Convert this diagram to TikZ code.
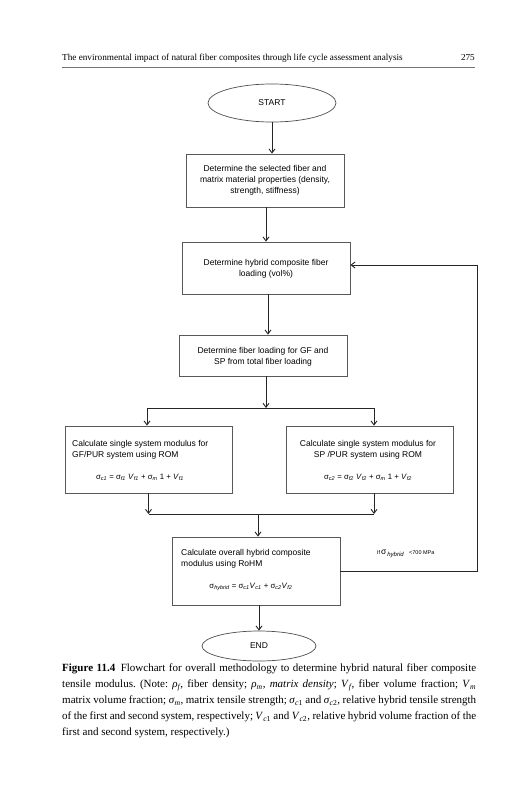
\documentclass[tikz,border=0pt]{standalone}
\usepackage{fontspec}
\setmainfont{Liberation Serif}
\newfontfamily\arialf{Liberation Sans}
\usetikzlibrary{arrows.meta,shapes.geometric}
\newcommand\sbs[1]{\textsubscript{\itshape #1}}
\newcommand\capsub[1]{\textsubscript{\itshape #1}}
\newcommand\capline[1]{\hbox to 414pt{#1}}
\frenchspacing
\begin{document}
\begin{tikzpicture}[x=1pt,y=-1pt,
  box/.style={draw=black!65, line width=0.7pt, inner sep=0pt},
  term/.style={ellipse, draw=black!70, line width=0.7pt, inner sep=0pt, font=\arialf\fontsize{8.5}{10}\selectfont},
  btext/.style={inner sep=0pt, font=\arialf\fontsize{8.5}{10.7}\selectfont},
  ftext/.style={inner sep=0pt, font=\arialf\fontsize{7.8}{9}\selectfont},
  flow/.style={draw=black!85, line width=0.9pt, -{Straight Barb[length=4pt,width=6pt]}},
  link/.style={draw=black!85, line width=0.9pt},
]
\useasboundingbox (0,0) rectangle (531,800);
% header
\node[anchor=base west, inner sep=0pt, font=\fontsize{9.2}{11}\selectfont] (head) at (62,60) {The environmental impact of natural fiber composites through life cycle assessment analysis};
\node[anchor=base east, inner sep=0pt, font=\fontsize{9.2}{11}\selectfont] (pnum) at (475,60) {275};
\draw[line width=0.9pt, black!55] (62,67) -- (475,67);

% terminals
\node[term, minimum width=128pt, minimum height=38pt] (start) at (272,103) {START};
\node[term, minimum width=114pt, minimum height=30pt] (end) at (259,646) {END};

% boxes
\node[box, minimum width=158pt, minimum height=53pt] (b1) at (265,180.5) {};
\node[btext, align=center] (t1) at (265,180.5) {Determine the selected fiber and\\matrix material properties (density,\\strength, stiffness)};

\node[box, minimum width=168pt, minimum height=52pt] (b2) at (266,268) {};
\node[btext, align=center] (t2) at (266,268.5) {Determine hybrid composite fiber\\loading (vol\%)};

\node[box, minimum width=168pt, minimum height=41pt] (b3) at (263,355.5) {};
\node[btext, align=center] (t3) at (263,357) {Determine fiber loading for GF and\\SP from total fiber loading};

\node[box, minimum width=167pt, minimum height=67pt] (bl) at (148.5,459.5) {};
\node[btext, align=left, anchor=west] (tl) at (72,449.5) {Calculate single system modulus for\\GF/PUR system using ROM};
\node[ftext] (fl) at (140,477) {σ\sbs{c1} = σ\sbs{f1} \textit{V}\sbs{f1} + σ\sbs{m} 1 + \textit{V}\sbs{f1}};

\node[box, minimum width=167pt, minimum height=67pt] (br) at (369.5,459.5) {};
\node[btext, align=center] (tr) at (368,449.5) {Calculate single system modulus for\\SP /PUR system using ROM};
\node[ftext] (fr) at (368,477) {σ\sbs{c2} = σ\sbs{f2} \textit{V}\sbs{f2} + σ\sbs{m} 1 + \textit{V}\sbs{f2}};

\node[box, minimum width=168pt, minimum height=68pt] (b4) at (256,571) {};
\node[btext, align=left, anchor=west] (t4) at (181,558.5) {Calculate overall hybrid composite\\modulus using RoHM};
\node[ftext] (f4) at (251,587) {σ\sbs{hybrid} = σ\sbs{c1}\textit{V}\sbs{c1} + σ\sbs{c2}\textit{V}\sbs{f2}};

\node[anchor=west, inner sep=0pt, font=\arialf\fontsize{5.5}{6}\selectfont] (cond) at (377,554) {If\,{\fontsize{8.5}{9}\selectfont σ}\,{\fontsize{6}{6}\selectfont\raisebox{-2pt}{\itshape hybrid}}\quad<700 MPa};

% connectors
\coordinate (s1) at (266,408);
\coordinate (m1) at (258,514);
\coordinate (fb) at (477,400);
\coordinate (b2in) at ([yshift=3pt]b2.east);
\draw[flow] (start.south) -- (start.south |- b1.north);
\draw[flow] ([xshift=1pt]b1.south) -- ([xshift=1pt]b1.south |- b2.north);
\draw[flow] ([xshift=2pt]b2.south) -- ([xshift=2pt]b2.south |- b3.north);
\draw[flow] (s1 |- b3.south) -- (s1);
\draw[link] ([xshift=-1.5pt]bl.north |- s1) -- ([xshift=4.5pt]br.north |- s1);
\draw[flow] ([xshift=-1.5pt]bl.north |- s1) -- ([xshift=-1.5pt]bl.north);
\draw[flow] ([xshift=4.5pt]br.north |- s1) -- ([xshift=4.5pt]br.north);
\draw[flow] (bl.south) -- (bl.south |- m1);
\draw[flow] ([xshift=4.5pt]br.south) -- ([xshift=4.5pt]br.south |- m1);
\draw[link] (bl.south |- m1) -- ([xshift=4.5pt]br.south |- m1);
\draw[flow] (m1) -- (m1 |- b4.north);
\draw[flow] (b4.east) -- (b4.east -| fb) -- (fb |- b2in) -- (b2in);
\draw[flow] (end.north |- b4.south) -- (end.north);

% caption
\node[anchor=north west, inner sep=0pt, align=left, font=\fontsize{11}{16}\selectfont] (cap) at (62,660) {\strut\capline{\textbf{Figure 11.4}\enspace Flowchart for overall methodology to determine hybrid natural fiber composite}\\
\capline{tensile modulus. (Note: \textit{ρ}\capsub{f}, fiber density; \textit{ρ}\capsub{m}, \textit{matrix density}; \textit{V}\capsub{f}, fiber volume fraction; \textit{V}\capsub{m}}\\
\capline{matrix volume fraction; \textit{σ}\capsub{m}, matrix tensile strength; \textit{σ}\textsubscript{\textit{c}1} and \textit{σ}\textsubscript{\textit{c}2}, relative hybrid tensile strength}\\
\capline{of the first and second system, respectively; \textit{V}\textsubscript{\textit{c}1} and \textit{V}\textsubscript{\textit{c}2}, relative hybrid volume fraction of the}\\
first and second system, respectively.)};
\end{tikzpicture}
\end{document}
